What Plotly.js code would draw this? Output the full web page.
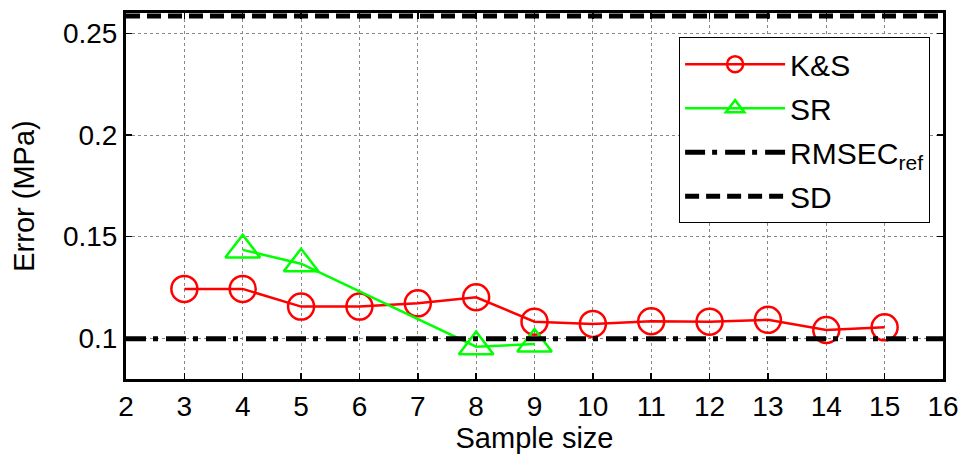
<!DOCTYPE html>
<html><head><meta charset="utf-8">
<script src="https://cdn.plot.ly/plotly-3.0.1.min.js"></script>
<style>html,body{margin:0;padding:0;background:#fff}</style>
</head><body><div id="chart" style="width:963px;height:457px"></div>
<script>
const ksX = [3,4,5,6,7,8,9,10,11,12,13,14,15];
const ksY = [0.1243,0.1243,0.1156,0.1156,0.1172,0.1202,0.1082,0.1071,0.1084,0.1082,0.1091,0.1041,0.1054];
const srX = [4,5,8,9];
const srY = [0.1435,0.1367,0.0959,0.0972];
const refX = [2,16];
const rmsecRef = 0.0998;
const sdValue = 0.2585;
const yTickVals = [0.1,0.15,0.2,0.25];
const yTickText = ['0.1','0.15','0.2','0.25'];
const xTickVals = [2,3,4,5,6,7,8,9,10,11,12,13,14,15,16];

const font = 'Arial, "Liberation Sans", sans-serif';

const traces = [
  {x: ksX, y: ksY, name: 'K&amp;S', mode: 'lines+markers', legendgroup: 'a',
   line: {color: '#ff0000', width: 2.5},
   marker: {symbol: 'circle-open', size: 26, color: '#ff0000', line: {width: 2.5, color: '#ff0000'}}},
  {x: srX, y: srY, name: 'SR', mode: 'lines+markers', legendgroup: 'b',
   line: {color: '#00ff00', width: 2.5},
   marker: {symbol: 'triangle-up-open', size: 30, color: '#00ff00', line: {width: 2.5, color: '#00ff00'}}},
  {x: refX, y: refX.map(() => rmsecRef), name: 'RMSEC<sub>ref</sub>', mode: 'lines', legendgroup: 'c',
   line: {color: '#000', width: 5, dash: '20px,7px,5px,8px'}},
  {x: refX, y: refX.map(() => sdValue), name: 'SD', mode: 'lines', legendgroup: 'd',
   line: {color: '#000', width: 5, dash: '14px,7px'}}
];

const layout = {
  width: 963, height: 457,
  margin: {l: 126, r: 20, t: 13, b: 78},
  paper_bgcolor: '#fff', plot_bgcolor: '#fff',
  font: {family: font, size: 28, color: '#000'},
  showlegend: true,
  legend: {x: 0.677, y: 0.934, xanchor: 'left', yanchor: 'top',
    bgcolor: '#fff', bordercolor: '#000', borderwidth: 1,
    font: {family: font, size: 30, color: '#000'},
    traceorder: 'grouped', tracegroupgap: 2, itemwidth: 100},
  xaxis: {range: [2, 16], tickmode: 'array', tickvals: xTickVals,
    showgrid: true, gridcolor: '#888', griddash: 'dot', gridwidth: 1,
    zeroline: false, showline: true, linecolor: '#000', linewidth: 3, mirror: 'allticks',
    ticks: 'inside', ticklen: 6, tickwidth: 1.5, tickcolor: '#000',
    tickfont: {family: font, size: 28},
    title: {text: 'Sample size', font: {family: font, size: 29}, standoff: 6}},
  yaxis: {range: [0.08, 0.26], tickmode: 'array', tickvals: yTickVals, ticktext: yTickText,
    showgrid: true, gridcolor: '#888', griddash: 'dot', gridwidth: 1,
    zeroline: false, showline: true, linecolor: '#000', linewidth: 3, mirror: 'allticks',
    ticks: 'inside', ticklen: 6, tickwidth: 1.5, tickcolor: '#000',
    tickfont: {family: font, size: 28},
    title: {text: 'Error (MPa)', font: {family: font, size: 29}, standoff: 20}}
};

Plotly.newPlot('chart', traces, layout, {displayModeBar: false, staticPlot: true});
</script></body></html>
